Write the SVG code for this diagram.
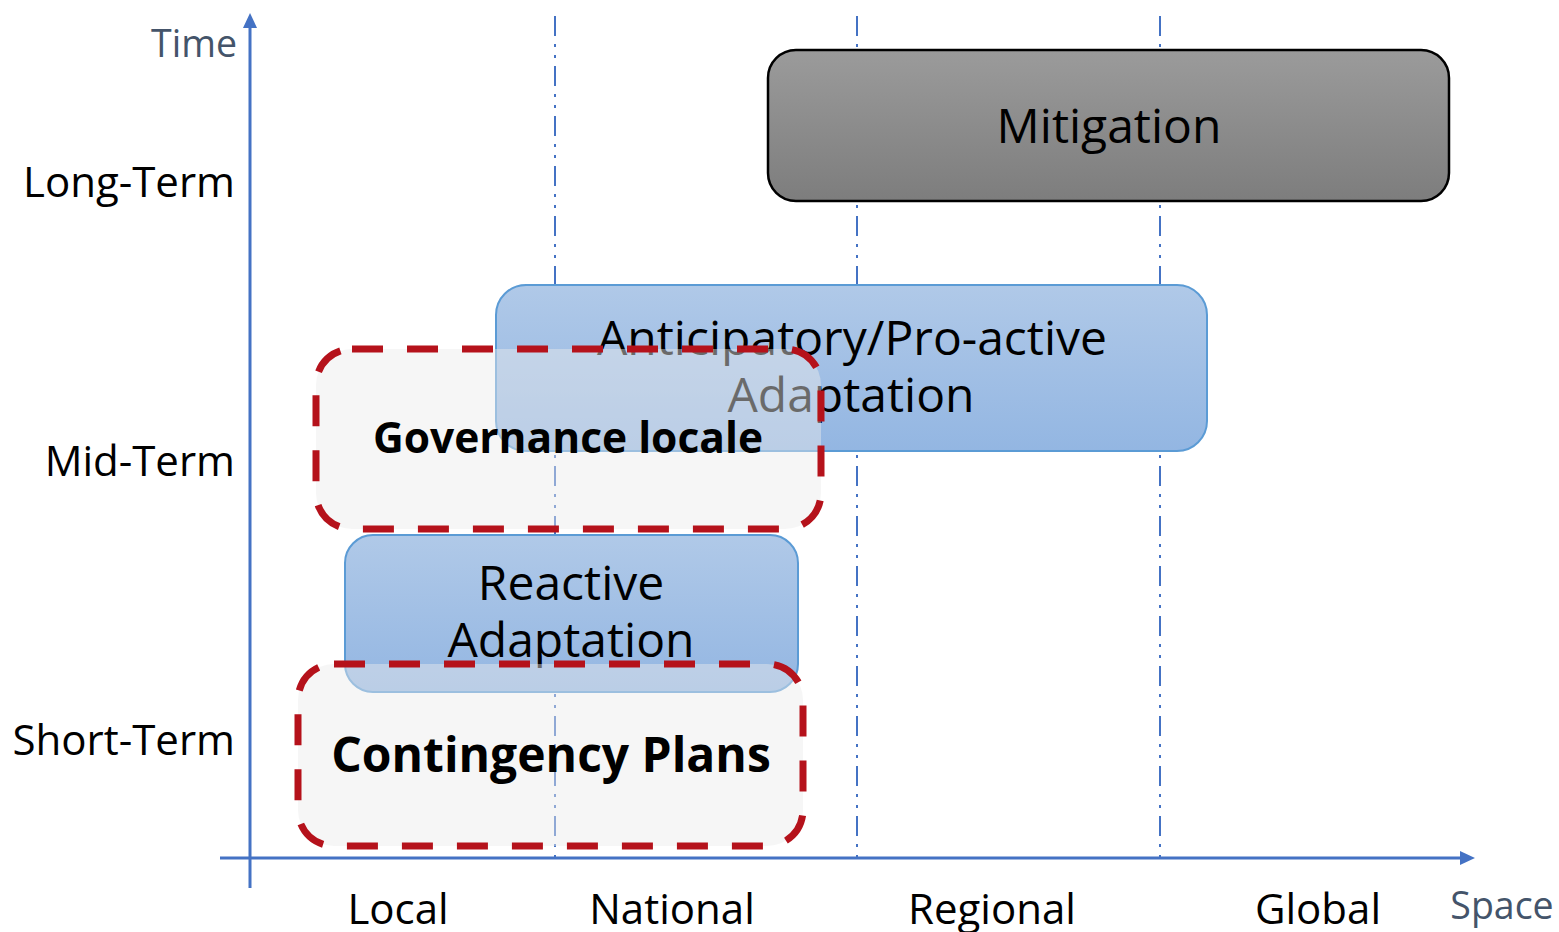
<svg xmlns="http://www.w3.org/2000/svg" width="1559" height="932" viewBox="0 0 1559 932">
<defs>
<style>
.t{font-family:"Open Sans","Liberation Sans",sans-serif;fill:#000}
.ax{font-family:"Open Sans","Liberation Sans",sans-serif;fill:#44546a;font-size:37.5px}
.lab{font-size:42px}
.grid{stroke:#4472c4;stroke-width:2;stroke-dasharray:20 8 3 8 3 8;fill:none}
.axis{stroke:#4472c4;stroke-width:3;fill:none}
.blue{fill:url(#gBlue);stroke:#5b9bd5;stroke-width:2}
.dash{fill:#ececec;fill-opacity:0.45;stroke:#b5121b;stroke-width:7;stroke-dasharray:31 24}
.b{font-weight:700}
</style>
<linearGradient id="gBlue" x1="0" y1="0" x2="0" y2="1">
<stop offset="0" stop-color="#b0c9e8"/>
<stop offset="1" stop-color="#93b6e2"/>
</linearGradient>
<linearGradient id="gGrey" x1="0" y1="0" x2="0" y2="1">
<stop offset="0" stop-color="#9b9b9b"/>
<stop offset="1" stop-color="#7d7d7d"/>
</linearGradient>
</defs>

<g id="connectors">
<line class="grid" x1="555" y1="16" x2="555" y2="858"/>
<line class="grid" x1="857" y1="16" x2="857" y2="858"/>
<line class="grid" x1="1160" y1="16" x2="1160" y2="858"/>
<line class="axis" x1="250" y1="888" x2="250" y2="28"/>
<path d="M243,28 L250,13 L257,28 z" fill="#4472c4"/>
<line class="axis" x1="220" y1="858" x2="1460" y2="858"/>
<path d="M1460,851 L1475,858 L1460,865 z" fill="#4472c4"/>
</g>

<g id="axis-labels">
<text class="ax" x="237" y="57" text-anchor="end">Time</text>
<text class="ax" x="1502" y="919" text-anchor="middle">Space</text>
<text class="t lab" x="235" y="197" text-anchor="end">Long-Term</text>
<text class="t lab" x="235" y="476" text-anchor="end">Mid-Term</text>
<text class="t lab" x="235" y="755" text-anchor="end">Short-Term</text>
<text class="t lab" x="398" y="924" text-anchor="middle">Local</text>
<text class="t lab" x="672" y="924" text-anchor="middle">National</text>
<text class="t lab" x="992" y="924" text-anchor="middle">Regional</text>
<text class="t lab" x="1318" y="924" text-anchor="middle">Global</text>
</g>

<g id="mitigation">
<rect x="768" y="50" width="681" height="151" rx="28" fill="url(#gGrey)" stroke="#000" stroke-width="2.5"/>
<text class="t" x="1109" y="143" text-anchor="middle" font-size="48">Mitigation</text>
</g>

<g id="anticipatory">
<rect class="blue" x="496" y="285" width="711" height="166" rx="30"/>
<text class="t" x="852" y="355" text-anchor="middle" font-size="48">Anticipatory/Pro-active</text>
<text class="t" x="851" y="412" text-anchor="middle" font-size="48">Adaptation</text>
</g>

<g id="governance">
<rect class="dash" x="316" y="349" width="505" height="180" rx="36"/>
<text class="t b" x="568" y="453" text-anchor="middle" font-size="42.5">Governance locale</text>
</g>

<g id="reactive">
<rect class="blue" x="345" y="535" width="453" height="157" rx="28"/>
<text class="t" x="571" y="600" text-anchor="middle" font-size="48">Reactive</text>
<text class="t" x="571" y="657" text-anchor="middle" font-size="48">Adaptation</text>
</g>

<g id="contingency">
<rect class="dash" x="298" y="664" width="505" height="182" rx="36"/>
<text class="t b" x="551" y="772" text-anchor="middle" font-size="48">Contingency Plans</text>
</g>
</svg>
